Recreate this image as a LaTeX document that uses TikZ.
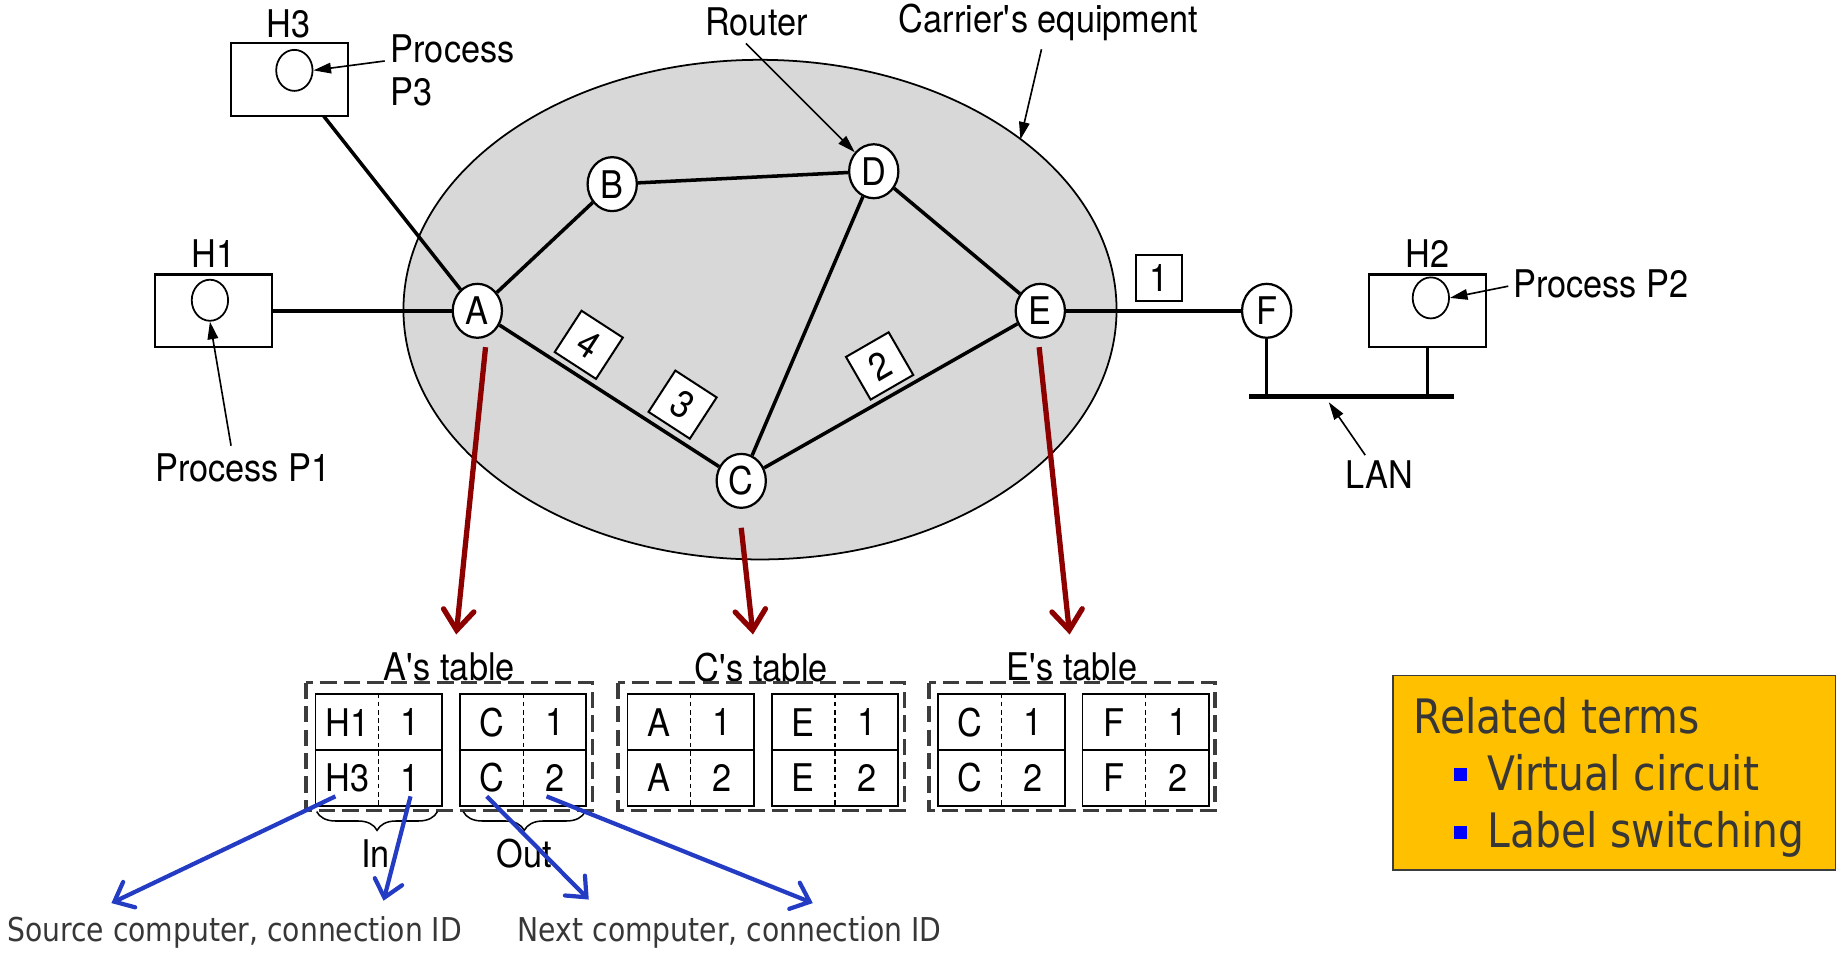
\documentclass[tikz,border=0pt]{standalone}
\usepackage{fontspec}
\setmainfont[FakeStretch=0.9]{TeX Gyre Heros}
\newfontfamily\tah[FakeStretch=0.86]{DejaVu Sans}
\usetikzlibrary{arrows.meta,decorations.pathreplacing,calc,shapes.geometric}
\definecolor{ellgray}{RGB}{216,216,216}
\definecolor{darkred}{RGB}{140,0,0}
\definecolor{myblue}{RGB}{35,60,195}
\definecolor{boxorange}{RGB}{255,192,0}
\definecolor{txtgray}{RGB}{55,55,55}
\definecolor{dashgray}{RGB}{60,60,60}
\newcommand\hf{\fontsize{32.5}{37}\selectfont}
\newcommand\tabpair[7]{%
  \node[tbl] (#1) at (#2+54,639.5) {};
  \draw[cellline] (#1.west) -- (#1.east);
  \draw[celldash] (#1.north) -- (#1.south);
  \node[celltxt] (#1a) at (#2+27,616) {#3};
  \node[celltxt] (#1b) at (#2+81,616) {#4};
  \node[celltxt] (#1c) at (#2+27,663) {#5};
  \node[celltxt] (#1d) at (#2+81,663) {#6};
}
\begin{document}
\begin{tikzpicture}[x=1pt,y=-1pt,
  router/.style={ellipse, draw, fill=white, line width=1.9pt, minimum width=42pt, minimum height=46pt, inner sep=0pt, font=\hf},
  host/.style={draw, line width=1.8pt, minimum width=100pt, minimum height=62pt, inner sep=0pt},
  proc/.style={ellipse, draw, line width=1.5pt, minimum width=31pt, minimum height=35pt, inner sep=0pt},
  link/.style={line width=3pt},
  lbl/.style={font=\hf, inner sep=0pt},
  pointer/.style={line width=1.4pt, -{Triangle[length=15pt,width=9pt]}},
  redarr/.style={line width=4.5pt, draw=darkred, -{Straight Barb[length=17pt,width=26pt,line cap=round]}},
  bluearr/.style={line width=3.6pt, draw=myblue, -{Straight Barb[length=14pt,width=24pt,line cap=round]}},
  pkt/.style={draw, fill=white, line width=1.7pt, minimum size=42pt, inner sep=0pt, font=\hf},
  outerbox/.style={draw=dashgray, line width=3pt, dash pattern=on 14pt off 6pt},
  tbl/.style={draw, line width=1.6pt, minimum width=108pt, minimum height=95pt, inner sep=0pt},
  cellline/.style={line width=1.6pt},
  celldash/.style={line width=1pt, dash pattern=on 4pt off 3pt},
  celltxt/.style={font=\hf, inner sep=0pt},
  bracestyle/.style={line width=1.3pt, decorate, decoration={brace, mirror, amplitude=16pt}},
  bluetxt/.style={font=\tah\fontsize{28}{32}\selectfont, text=txtgray, inner sep=0pt},
  reltxt/.style={font=\tah\fontsize{40.5}{46}\selectfont, text=txtgray, inner sep=0pt, anchor=base west},
  bullet/.style={fill=blue, minimum size=11pt, inner sep=0pt}
]
\useasboundingbox (0,0) rectangle (1568,812);

% carrier ellipse
\draw[line width=1.5pt, fill=ellgray] (648,264) ellipse [x radius=304pt, y radius=213pt];
\coordinate (ellpt) at (870,119);

% routers
\node[router] (A) at (407,265) {A};
\node[router] (B) at (522,157) {B};
\node[router] (D) at (745,146) {D};
\node[router] (E) at (887,265) {E};
\node[router] (C) at (632,410) {C};
\node[router] (F) at (1080,265) {F};

% hosts
\node[host] (H3) at (247,68) {};
\node[proc] (P3) at (251,60) {};
\node[lbl] (H3l) at (246,20) {H3};
\node[host] (H1) at (182,265) {};
\node[proc] (P1) at (179,256) {};
\node[lbl] (H1l) at (182,216) {H1};
\node[host] (H2) at (1217,265) {};
\node[proc] (P2) at (1220,254) {};
\node[lbl] (H2l) at (1217,216) {H2};

% links
\coordinate (h3foot) at (276,99);
\draw[link] (h3foot) -- (A);
\draw[link] (H1.east) -- (A);
\draw[link] (A) -- (B);
\draw[link] (B) -- (D);
\draw[link] (D) -- (E);
\draw[link] (D) -- (C);
\draw[link] (A) -- (C);
\draw[link] (C) -- (E);
\draw[link] (E) -- (F);

% LAN
\coordinate (lanL) at (1065,338);
\coordinate (lanR) at (1240,338);
\coordinate (lanF) at (1080,338);
\coordinate (lanH) at (1217,338);
\draw[line width=4pt] (lanL) -- (lanR);
\draw[link] (F) -- (lanF);
\draw[link] (H2.south) -- (lanH);
\node[lbl] (LAN) at (1176,405) {LAN};
\coordinate (lanptr) at (1133,343);
\draw[pointer] (1164,388) -- (lanptr);

% packets
\node[pkt, rotate=-33] (p4) at (502,294) {4};
\node[pkt, rotate=-33] (p3) at (582,345) {3};
\node[pkt, rotate=30] (p2) at (750,312) {2};
\node[pkt, minimum size=39pt] (p1) at (988,237) {1};

% labels with pointers
\node[lbl, anchor=west, align=left] (P3l) at (333,60) {Process\\[0pt]P3};
\draw[pointer] (328,52) -- (P3.east);
\node[lbl] (P1l) at (207,399) {Process P1};
\draw[pointer] (197,380) -- (P1.south);
\node[lbl, anchor=west] (P2l) at (1290,242) {Process P2};
\draw[pointer] (1286,244) -- (P2.east);
\node[lbl] (Rl) at (645,19) {Router};
\draw[pointer] (636,37) -- (D);
\node[lbl] (Cl) at (894,19) {Carrier\textquotesingle s equipment};
\draw[pointer] (888,42) -- (ellpt);

% tables
\node[lbl] (At) at (383,569) {A\textquotesingle s table};
\node[lbl] (Ct) at (649,569) {C\textquotesingle s table};
\node[lbl] (Et) at (914,569) {E\textquotesingle s table};
\draw[outerbox] (261,582) rectangle (505,691);
\draw[outerbox] (527,582) rectangle (771,691);
\draw[outerbox] (792,582) rectangle (1036,691);
\tabpair{Ain}{269}{H1}{1}{H3}{1}{}
\tabpair{Aout}{392}{C}{1}{C}{2}{}
\tabpair{Cin}{535}{A}{1}{A}{2}{}
\tabpair{Cout}{658}{E}{1}{E}{2}{}
\tabpair{Ein}{800}{C}{1}{C}{2}{}
\tabpair{Eout}{923}{F}{1}{F}{2}{}

% red arrows
\coordinate (rA) at (414,296);
\coordinate (rC) at (632,450);
\coordinate (rE) at (886,296);
\draw[redarr] (rA) -- (389,541);
\draw[redarr] (rC) -- (642,541);
\draw[redarr] (rE) -- (912,541);

% braces
\draw[bracestyle] (270,692) -- (373,692);
\draw[bracestyle] (395,692) -- (499,692);
\node[lbl] (In) at (320,728) {In};
\node[lbl] (Out) at (447,728) {Out};

% blue arrows and labels
\node[bluetxt] (src) at (200,795) {Source computer, connection ID};
\node[bluetxt] (nxt) at (622,795) {Next computer, connection ID};
\coordinate (b1s) at (286,679);
\coordinate (b2s) at (350,679);
\coordinate (b3s) at (415,679);
\coordinate (b4s) at (466,679);
\draw[bluearr] (b1s) -- (95,770);
\draw[bluearr] (b2s) -- (327,768);
\draw[bluearr] (b3s) -- (502,767);
\draw[bluearr] (b4s) -- (693,770);

% related terms
\node[draw=dashgray, line width=1.5pt, fill=boxorange, minimum width=377pt, minimum height=166pt, inner sep=0pt] (rel) at (1376.5,659) {};
\node[reltxt] (rel1) at (1205,625) {Related terms};
\node[bullet] (bu1) at (1245,660) {};
\node[reltxt] (rel2) at (1268,674) {Virtual circuit};
\node[bullet] (bu2) at (1245,710) {};
\node[reltxt] (rel3) at (1268,723) {Label switching};
\end{tikzpicture}
\end{document}
